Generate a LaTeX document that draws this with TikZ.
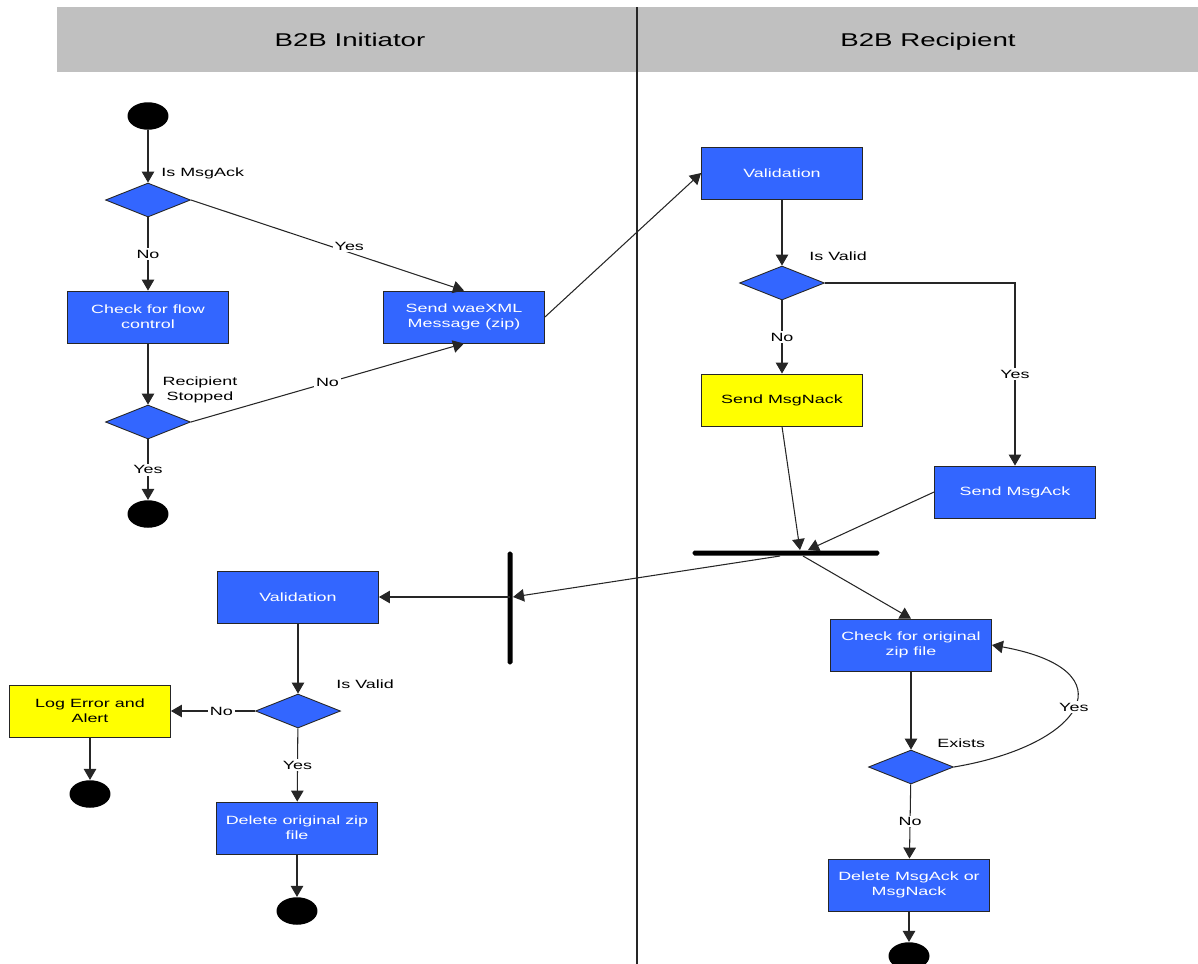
\documentclass[tikz,border=0pt]{standalone}
\usepackage{fontspec}
\setmainfont{Liberation Sans}[FakeStretch=1.5]
\usetikzlibrary{shapes.geometric,arrows.meta}
\definecolor{actblue}{HTML}{3366FF}
\definecolor{lanegray}{HTML}{C0C0C0}
\definecolor{noteyellow}{HTML}{FFFF00}
\tikzset{
  action/.style={rectangle, draw=black!85, line width=0.5pt, fill=actblue, text=white,
    minimum width=3.22cm, minimum height=1.04cm, align=center, inner sep=1pt,
    font=\fontsize{6.8}{8.5}\selectfont},
  alert/.style={action, fill=noteyellow, text=black},
  decision/.style={diamond, draw=black!85, line width=0.5pt, fill=actblue,
    minimum width=1.7cm, minimum height=0.68cm, inner sep=0pt},
  terminal/.style={ellipse, fill=black, minimum width=0.82cm, minimum height=0.55cm, inner sep=0pt},
  flow/.style={draw=black!85, line width=0.6pt, -{Triangle[length=0.22cm,width=0.25cm]}},
  guard/.style={font=\fontsize{6.8}{8.5}\selectfont, fill=white, inner sep=1pt, text=black},
  note/.style={font=\fontsize{6.8}{8.5}\selectfont, align=center, inner sep=0pt, text=black},
  syncbar/.style={rectangle, fill=black, inner sep=0pt, rounded corners=1pt},
  lanehead/.style={font=\fontsize{10.5}{12}\selectfont, text=black, anchor=base},
}
\begin{document}
\begin{tikzpicture}[x=0.02cm, y=-0.02cm]
\useasboundingbox (0,0) rectangle (1198,964);

% swimlane header and divider
\fill[lanegray] (57,7) rectangle (1198,72);
\draw[black!85, line width=0.6pt] (637,7) -- (637,964);
\node[lanehead] (h1) at (350,46) {B2B Initiator};
\node[lanehead] (h2) at (928,46) {B2B Recipient};

% initiator: sending
\node[terminal] (s1) at (148,116) {};
\node[decision] (d1) at (148,200) {};
\node[note, anchor=west] (q1) at (161,173) {Is MsgAck};
\node[action] (flowctl) at (148,317) {Check for flow\\control};
\node[action] (send) at (464,317) {Send waeXML\\Message (zip)};
\node[decision] (d2) at (148,422) {};
\node[note] (q2) at (200,390) {Recipient\\Stopped};
\node[terminal] (e1) at (148,514) {};

% recipient: validation
\node[action] (val1) at (782,173) {Validation};
\node[decision] (d3) at (782,283) {};
\node[note, anchor=west] (q3) at (809,256) {Is Valid};
\node[alert] (nack) at (782,400) {Send MsgNack};
\node[action] (ack) at (1015,492) {Send MsgAck};

% synchronisation bars
\node[syncbar, minimum width=3.74cm, minimum height=0.1cm] (join) at (786,553) {};
\node[syncbar, minimum width=0.1cm, minimum height=2.26cm] (fork) at (510,608) {};
\coordinate (jn) at (800,550);
\coordinate (ja) at (808,550);
\coordinate (jo) at (803,556);
\coordinate (jl) at (780,556);
\coordinate (fk) at (513,597);
\coordinate (fo) at (510,597);

% recipient: clean-up
\node[action] (check) at (911,645) {Check for original\\zip file};
\node[decision] (d5) at (911,767) {};
\node[note, anchor=west] (q5) at (937,743) {Exists};
\node[action] (delack) at (909,885) {Delete MsgAck or\\MsgNack};
\node[terminal] (e4) at (909,956) {};

% initiator: acknowledgement handling
\node[action] (val2) at (298,597) {Validation};
\node[decision] (d4) at (298,711) {};
\node[note, anchor=west] (q4) at (336,684) {Is Valid};
\node[alert] (log) at (90,711) {Log Error and\\Alert};
\node[terminal] (e2) at (90,794) {};
\node[action] (delzip) at (297,828) {Delete original zip\\file};
\node[terminal] (e3) at (297,911) {};

% connectors
\draw[flow] (s1) -- (d1);
\draw[flow] (d1) -- node[guard]{No} (flowctl);
\draw[flow] (d1.east) -- node[guard, pos=0.58, yshift=0.12cm]{Yes} (send.north);
\draw[flow] (flowctl) -- (d2);
\draw[flow] (d2.east) -- node[guard]{No} (send.south);
\draw[flow] (d2) -- node[guard]{Yes} (e1);
\draw[flow] (send.east) -- (val1.west);

\draw[flow] (val1) -- (d3);
\draw[flow] (d3) -- node[guard]{No} (nack);
\draw[flow] (d3.east) -| node[guard, pos=0.75]{Yes} (ack.north);
\draw[flow] (nack.south) -- (jn);
\draw[flow] (ack.west) -- (ja);
\draw[flow] (jo) -- (check.north);
\draw[flow] (jl) -- (fk);
\draw[flow] (fo) -- (val2.east);

\draw[flow] (check) -- (d5);
\draw[flow] (d5.east) .. controls (1085,745) and (1130,670) .. node[guard]{Yes} (check.east);
\draw[flow] (d5) -- node[guard]{No} (delack);
\draw[flow] (delack) -- (e4);

\draw[flow] (val2) -- (d4);
\draw[flow] (d4.west) -- node[guard, pos=0.4]{No} (log.east);
\draw[flow] (d4) -- node[guard]{Yes} (delzip);
\draw[flow] (log) -- (e2);
\draw[flow] (delzip) -- (e3);
\end{tikzpicture}
\end{document}
